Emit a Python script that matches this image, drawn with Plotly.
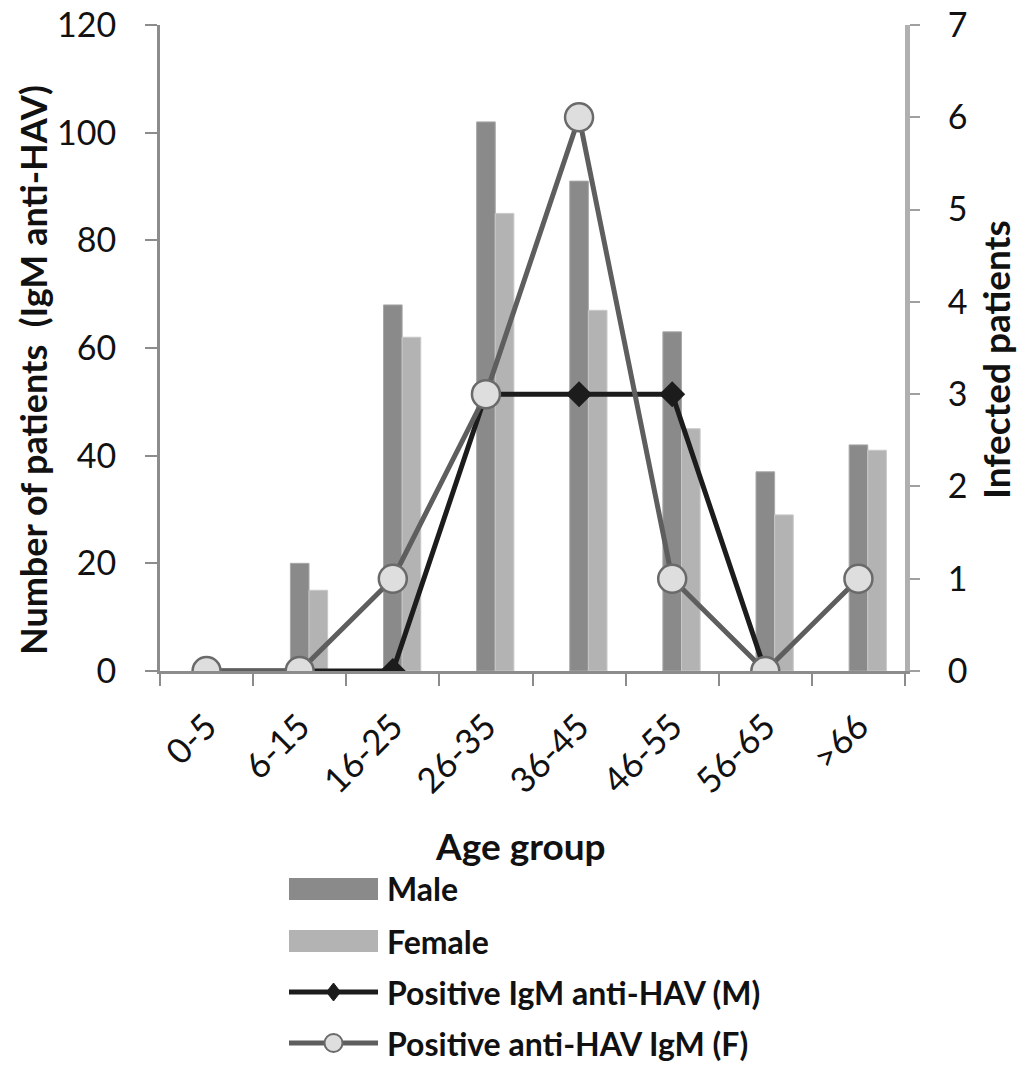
import plotly.graph_objects as go

age_groups = ["0-5", "6-15", "16-25", "26-35", "36-45", "46-55", "56-65", ">66"]
male = [0, 20, 68, 102, 91, 63, 37, 42]
female = [0, 15, 62, 85, 67, 45, 29, 41]
pos_m = [0, 0, 0, 3, 3, 3, 0, None]
pos_f = [0, 0, 1, 3, 6, 1, 0, 1]
legend_labels = ["Male", "Female", "Positive IgM anti-HAV (M)", "Positive anti-HAV IgM (F)"]

FONT = "Lato"
W, H = 1024, 1072
ML, MR, MT, MB = 160, 119, 25, 401
PW, PH = W - ML - MR, H - MT - MB

def px(x):  # page pixel -> paper x
    return (x - ML) / PW

def py(y):  # page pixel -> paper y
    return (H - MB - y) / PH

C_MALE, C_FEMALE = "#8a8a8a", "#b3b3b3"
C_M, C_F, C_FFILL = "#1c1c1c", "#5e5e5e", "#dedede"

fig = go.Figure()
fig.add_trace(go.Bar(x=age_groups, y=male, name=legend_labels[0],
                     marker=dict(color=C_MALE, line=dict(color="#a8a8a8", width=1)),
                     width=0.2, offset=-0.1, showlegend=False))
fig.add_trace(go.Bar(x=age_groups, y=female, name=legend_labels[1],
                     marker=dict(color=C_FEMALE, line=dict(color="#c8c8c8", width=1)),
                     width=0.2, offset=0.1, showlegend=False))
fig.add_trace(go.Scatter(x=age_groups, y=pos_m, name=legend_labels[2], yaxis="y2", showlegend=False,
                         mode="lines+markers", line=dict(color=C_M, width=5),
                         marker=dict(symbol="diamond", size=20, color=C_M)))
fig.add_trace(go.Scatter(x=age_groups, y=pos_f, name=legend_labels[3], yaxis="y2", showlegend=False,
                         mode="lines+markers", line=dict(color=C_F, width=5),
                         marker=dict(symbol="circle", size=28, color=C_FFILL, line=dict(color="#6a6a6a", width=2.5))))

# manual legend (symbols + text)
leg_x0, leg_x1, leg_tx = 289, 378, 385
leg_y = [889, 941, 992, 1043]
shapes = []
annotations = []
for i, (lab, yc) in enumerate(zip(legend_labels, leg_y)):
    if i < 2:
        shapes.append(dict(type="rect", xref="paper", yref="paper", x0=px(leg_x0), x1=px(leg_x1),
                           y0=py(yc + 11), y1=py(yc - 11), line=dict(width=0),
                           fillcolor=C_MALE if i == 0 else C_FEMALE))
    else:
        col = C_M if i == 2 else C_F
        shapes.append(dict(type="line", xref="paper", yref="paper", x0=px(leg_x0), x1=px(leg_x1),
                           y0=py(yc), y1=py(yc), line=dict(color=col, width=5)))
        cx = (leg_x0 + leg_x1) / 2
        if i == 2:
            path = "M {},{} L {},{} L {},{} L {},{} Z".format(
                px(cx), py(yc - 9), px(cx + 7), py(yc), px(cx), py(yc + 9), px(cx - 7), py(yc))
            shapes.append(dict(type="path", xref="paper", yref="paper", path=path,
                               fillcolor=C_M, line=dict(color=C_M, width=1)))
        else:
            shapes.append(dict(type="circle", xref="paper", yref="paper", x0=px(cx - 9), x1=px(cx + 9),
                               y0=py(yc + 9), y1=py(yc - 9), fillcolor=C_FFILL,
                               line=dict(color="#6a6a6a", width=2)))
    annotations.append(dict(text="<b>" + lab + "</b>", xref="paper", yref="paper", x=px(leg_tx), y=py(yc),
                            xanchor="left", yanchor="middle", showarrow=False,
                            font=dict(size=32, family=FONT, color="#111")))

annotations += [
    dict(text="<b>Number of patients  (IgM anti-HAV)</b>", xref="paper", yref="paper", x=px(33), y=py(370),
         textangle=-90, showarrow=False, xanchor="center", yanchor="middle", font=dict(size=36, family=FONT)),
    dict(text="<b>Infected patients</b>", xref="paper", yref="paper", x=px(995), y=py(360),
         textangle=-90, showarrow=False, xanchor="center", yanchor="middle", font=dict(size=37, family=FONT)),
    dict(text="<b>Age group</b>", xref="paper", yref="paper", x=px(520), y=py(845),
         showarrow=False, xanchor="center", yanchor="middle", font=dict(size=37, family=FONT)),
]

fig.update_layout(
    width=W, height=H,
    margin=dict(l=ML, r=MR, t=MT, b=MB),
    paper_bgcolor="white", plot_bgcolor="white",
    barmode="overlay", showlegend=False,
    font=dict(family=FONT, color="#111111"),
    xaxis=dict(type="category", range=[-0.5, 7.5], showline=True, linecolor="#8c8c8c", linewidth=3,
               ticks="outside", tickson="boundaries", ticklen=12, tickwidth=2, tickcolor="#8c8c8c",
               tickangle=-45, tickfont=dict(size=35, family=FONT, color="#111"), showgrid=False,
               ticklabelstandoff=18, automargin=False),
    yaxis=dict(range=[0, 120], dtick=20, showline=True, linecolor="#8c8c8c", linewidth=3,
               ticks="outside", ticklen=12, tickwidth=2, tickcolor="#8c8c8c", showgrid=False, zeroline=False,
               tickfont=dict(size=34, family=FONT, color="#111"), ticklabelstandoff=22, automargin=False),
    yaxis2=dict(range=[0, 7], dtick=1, overlaying="y", side="right", showline=True, linecolor="#b0b0b0", linewidth=5,
                ticks="outside", ticklen=10, tickwidth=2, tickcolor="#a0a0a0", showgrid=False, zeroline=False,
                tickfont=dict(size=34, family=FONT, color="#111"), ticklabelstandoff=21, automargin=False),
    shapes=shapes,
    annotations=annotations,
)

fig.write_html("out.html", config={"displayModeBar": False},
               post_script="document.body.style.margin='0px';")
